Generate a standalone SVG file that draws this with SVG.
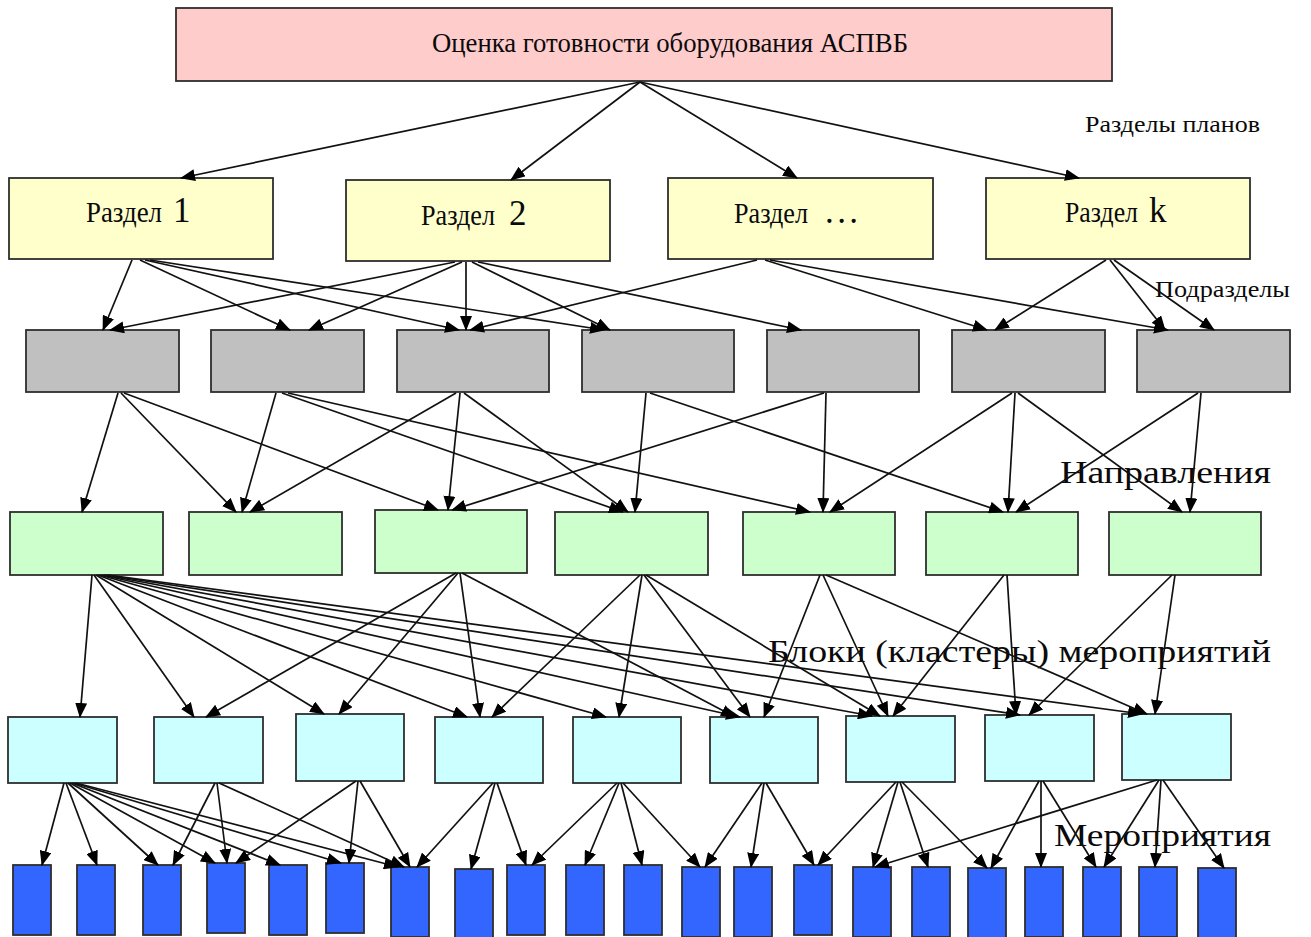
<svg xmlns="http://www.w3.org/2000/svg" width="1311" height="937" viewBox="0 0 1311 937">
  <style>
    .box { stroke: #2e2e2e; stroke-width: 1.8; }
    .top { fill: #ffcccc; }
    .sec { fill: #ffffcc; }
    .sub { fill: #c0c0c0; }
    .dir { fill: #ccffcc; }
    .blk { fill: #ccffff; }
    .act { fill: #3366ff; }
    .t { font-family: "Liberation Serif", "Times New Roman", serif; fill: #0a0a0a; }
    .e { stroke: #111; stroke-width: 1.7; fill: none; marker-end: url(#ah); }
  </style>
  <defs>
    <marker id="ah" markerUnits="userSpaceOnUse" markerWidth="15" markerHeight="12" refX="14" refY="6" orient="auto">
      <path d="M0,0 L15,6 L0,12 z" fill="#000"/>
    </marker>
  </defs>
  <rect width="1311" height="937" fill="#fff"/>

  <!-- root -->
  <g id="root">
    <rect class="box top" x="176" y="8" width="936" height="73"/>
    <text class="t" x="432" y="52" font-size="27" textLength="476" lengthAdjust="spacingAndGlyphs">Оценка готовности оборудования АСПВБ</text>
  </g>

  <!-- plan sections -->
  <g id="sec1">
    <rect class="box sec" x="9" y="178" width="264" height="81"/>
    <text class="t" x="86" y="222" font-size="30" textLength="76" lengthAdjust="spacingAndGlyphs">Раздел</text>
    <text class="t" x="173" y="222" font-size="35">1</text>
  </g>
  <g id="sec2">
    <rect class="box sec" x="346" y="180" width="264" height="81"/>
    <text class="t" x="421" y="225" font-size="30" textLength="74" lengthAdjust="spacingAndGlyphs">Раздел</text>
    <text class="t" x="509" y="225" font-size="35">2</text>
  </g>
  <g id="sec3">
    <rect class="box sec" x="668" y="178" width="265" height="81"/>
    <text class="t" x="734" y="223" font-size="30" textLength="74" lengthAdjust="spacingAndGlyphs">Раздел</text>
    <text class="t" x="825" y="223" font-size="35" textLength="33" lengthAdjust="spacing">...</text>
  </g>
  <g id="sec4">
    <rect class="box sec" x="986" y="178" width="264" height="81"/>
    <text class="t" x="1065" y="222" font-size="30" textLength="73" lengthAdjust="spacingAndGlyphs">Раздел</text>
    <text class="t" x="1149" y="222" font-size="35">k</text>
  </g>

  <!-- subsections -->
  <g id="sub1"><rect class="box sub" x="26" y="330" width="153" height="62"/></g>
  <g id="sub2"><rect class="box sub" x="211" y="330" width="153" height="62"/></g>
  <g id="sub3"><rect class="box sub" x="397" y="330" width="152" height="62"/></g>
  <g id="sub4"><rect class="box sub" x="582" y="330" width="152" height="62"/></g>
  <g id="sub5"><rect class="box sub" x="767" y="330" width="152" height="62"/></g>
  <g id="sub6"><rect class="box sub" x="952" y="330" width="153" height="62"/></g>
  <g id="sub7"><rect class="box sub" x="1137" y="330" width="153" height="62"/></g>

  <!-- directions -->
  <g id="dir1"><rect class="box dir" x="10" y="512" width="153" height="63"/></g>
  <g id="dir2"><rect class="box dir" x="189" y="512" width="153" height="63"/></g>
  <g id="dir3"><rect class="box dir" x="375" y="510" width="152" height="63"/></g>
  <g id="dir4"><rect class="box dir" x="555" y="512" width="153" height="63"/></g>
  <g id="dir5"><rect class="box dir" x="743" y="512" width="152" height="63"/></g>
  <g id="dir6"><rect class="box dir" x="926" y="512" width="152" height="63"/></g>
  <g id="dir7"><rect class="box dir" x="1109" y="512" width="152" height="63"/></g>

  <!-- activity clusters -->
  <g id="blk1"><rect class="box blk" x="8" y="717" width="109" height="66"/></g>
  <g id="blk2"><rect class="box blk" x="154" y="717" width="109" height="66"/></g>
  <g id="blk3"><rect class="box blk" x="296" y="714" width="108" height="67"/></g>
  <g id="blk4"><rect class="box blk" x="435" y="717" width="108" height="66"/></g>
  <g id="blk5"><rect class="box blk" x="573" y="717" width="108" height="66"/></g>
  <g id="blk6"><rect class="box blk" x="710" y="717" width="108" height="66"/></g>
  <g id="blk7"><rect class="box blk" x="846" y="716" width="109" height="66"/></g>
  <g id="blk8"><rect class="box blk" x="985" y="715" width="109" height="66"/></g>
  <g id="blk9"><rect class="box blk" x="1122" y="714" width="109" height="66"/></g>

  <!-- activities -->
  <g id="act1"><rect class="box act" x="13" y="865" width="38" height="70"/></g>
  <g id="act2"><rect class="box act" x="77" y="865" width="38" height="70"/></g>
  <g id="act3"><rect class="box act" x="143" y="865" width="38" height="70"/></g>
  <g id="act4"><rect class="box act" x="207" y="863" width="38" height="70"/></g>
  <g id="act5"><rect class="box act" x="269" y="865" width="38" height="70"/></g>
  <g id="act6"><rect class="box act" x="326" y="863" width="38" height="70"/></g>
  <g id="act7"><rect class="box act" x="391" y="867" width="38" height="70"/></g>
  <g id="act8"><rect class="box act" x="455" y="869" width="38" height="70"/></g>
  <g id="act9"><rect class="box act" x="507" y="865" width="38" height="70"/></g>
  <g id="act10"><rect class="box act" x="566" y="865" width="38" height="70"/></g>
  <g id="act11"><rect class="box act" x="624" y="865" width="38" height="70"/></g>
  <g id="act12"><rect class="box act" x="682" y="867" width="38" height="70"/></g>
  <g id="act13"><rect class="box act" x="734" y="867" width="38" height="70"/></g>
  <g id="act14"><rect class="box act" x="794" y="865" width="38" height="70"/></g>
  <g id="act15"><rect class="box act" x="853" y="867" width="38" height="70"/></g>
  <g id="act16"><rect class="box act" x="912" y="867" width="38" height="70"/></g>
  <g id="act17"><rect class="box act" x="968" y="868" width="38" height="70"/></g>
  <g id="act18"><rect class="box act" x="1025" y="867" width="38" height="70"/></g>
  <g id="act19"><rect class="box act" x="1083" y="867" width="38" height="70"/></g>
  <g id="act20"><rect class="box act" x="1139" y="867" width="38" height="70"/></g>
  <g id="act21"><rect class="box act" x="1198" y="868" width="38" height="70"/></g>

  <!-- level captions -->
  <g id="captions">
    <text class="t" x="1085" y="132" font-size="23" textLength="175" lengthAdjust="spacingAndGlyphs">Разделы планов</text>
    <text class="t" x="1155" y="297" font-size="23" textLength="135" lengthAdjust="spacingAndGlyphs">Подразделы</text>
    <text class="t" x="1060" y="483" font-size="31" textLength="211" lengthAdjust="spacingAndGlyphs">Направления</text>
    <text class="t" x="768" y="662" font-size="31" textLength="503" lengthAdjust="spacingAndGlyphs">Блоки (кластеры) мероприятий</text>
    <text class="t" x="1054" y="846" font-size="31" textLength="217" lengthAdjust="spacingAndGlyphs">Мероприятия</text>
  </g>

  <!-- connectors -->
  <g id="connectors">
    <!-- root to sections -->
    <line class="e" x1="640" y1="82" x2="181" y2="178"/>
    <line class="e" x1="640" y1="82" x2="511" y2="180"/>
    <line class="e" x1="640" y1="82" x2="797" y2="178"/>
    <line class="e" x1="640" y1="82" x2="1079" y2="178"/>

    <!-- sections to subsections -->
    <line class="e" x1="132" y1="260" x2="103" y2="330"/>
    <line class="e" x1="140" y1="260" x2="290" y2="330"/>
    <line class="e" x1="145" y1="260" x2="459" y2="330"/>
    <line class="e" x1="150" y1="260" x2="604" y2="330"/>
    <line class="e" x1="455" y1="262" x2="110" y2="330"/>
    <line class="e" x1="462" y1="262" x2="309" y2="330"/>
    <line class="e" x1="466" y1="262" x2="466" y2="330"/>
    <line class="e" x1="472" y1="262" x2="610" y2="330"/>
    <line class="e" x1="478" y1="262" x2="801" y2="330"/>
    <line class="e" x1="757" y1="260" x2="470" y2="330"/>
    <line class="e" x1="765" y1="260" x2="987" y2="330"/>
    <line class="e" x1="770" y1="260" x2="1168" y2="330"/>
    <line class="e" x1="1106" y1="260" x2="995" y2="330"/>
    <line class="e" x1="1110" y1="260" x2="1165" y2="330"/>
    <line class="e" x1="1114" y1="260" x2="1214" y2="330"/>

    <!-- subsections to directions -->
    <line class="e" x1="118" y1="393" x2="82" y2="512"/>
    <line class="e" x1="121" y1="393" x2="236" y2="512"/>
    <line class="e" x1="124" y1="393" x2="438" y2="510"/>
    <line class="e" x1="276" y1="393" x2="242" y2="512"/>
    <line class="e" x1="282" y1="393" x2="623" y2="512"/>
    <line class="e" x1="288" y1="393" x2="810" y2="512"/>
    <line class="e" x1="456" y1="393" x2="250" y2="512"/>
    <line class="e" x1="460" y1="393" x2="448" y2="510"/>
    <line class="e" x1="464" y1="393" x2="628" y2="512"/>
    <line class="e" x1="646" y1="393" x2="635" y2="512"/>
    <line class="e" x1="650" y1="393" x2="1003" y2="512"/>
    <line class="e" x1="824" y1="393" x2="452" y2="510"/>
    <line class="e" x1="826" y1="393" x2="823" y2="512"/>
    <line class="e" x1="1012" y1="393" x2="830" y2="512"/>
    <line class="e" x1="1015" y1="393" x2="1008" y2="512"/>
    <line class="e" x1="1018" y1="393" x2="1182" y2="512"/>
    <line class="e" x1="1198" y1="393" x2="1016" y2="512"/>
    <line class="e" x1="1201" y1="393" x2="1190" y2="512"/>

    <!-- directions to clusters -->
    <line class="e" x1="92" y1="575" x2="80" y2="717"/>
    <line class="e" x1="94" y1="575" x2="194" y2="717"/>
    <line class="e" x1="96" y1="575" x2="324" y2="714"/>
    <line class="e" x1="98" y1="575" x2="467" y2="717"/>
    <line class="e" x1="100" y1="575" x2="606" y2="717"/>
    <line class="e" x1="102" y1="575" x2="740" y2="717"/>
    <line class="e" x1="104" y1="575" x2="872" y2="716"/>
    <line class="e" x1="106" y1="575" x2="1020" y2="715"/>
    <line class="e" x1="108" y1="575" x2="1142" y2="714"/>
    <line class="e" x1="456" y1="573" x2="206" y2="717"/>
    <line class="e" x1="458" y1="573" x2="339" y2="714"/>
    <line class="e" x1="460" y1="573" x2="480" y2="717"/>
    <line class="e" x1="462" y1="573" x2="735" y2="717"/>
    <line class="e" x1="640" y1="575" x2="492" y2="717"/>
    <line class="e" x1="642" y1="575" x2="619" y2="717"/>
    <line class="e" x1="644" y1="575" x2="750" y2="717"/>
    <line class="e" x1="646" y1="575" x2="880" y2="716"/>
    <line class="e" x1="820" y1="575" x2="764" y2="717"/>
    <line class="e" x1="823" y1="575" x2="888" y2="716"/>
    <line class="e" x1="826" y1="575" x2="1147" y2="714"/>
    <line class="e" x1="1004" y1="575" x2="893" y2="716"/>
    <line class="e" x1="1007" y1="575" x2="1016" y2="715"/>
    <line class="e" x1="1172" y1="575" x2="1029" y2="715"/>
    <line class="e" x1="1175" y1="575" x2="1155" y2="714"/>

    <!-- clusters to activities -->
    <line class="e" x1="64" y1="783" x2="42" y2="865"/>
    <line class="e" x1="66" y1="783" x2="97" y2="865"/>
    <line class="e" x1="68" y1="783" x2="158" y2="865"/>
    <line class="e" x1="70" y1="783" x2="215" y2="863"/>
    <line class="e" x1="72" y1="783" x2="280" y2="865"/>
    <line class="e" x1="74" y1="783" x2="341" y2="863"/>
    <line class="e" x1="76" y1="783" x2="398" y2="867"/>
    <line class="e" x1="215" y1="783" x2="173" y2="865"/>
    <line class="e" x1="217" y1="783" x2="227" y2="863"/>
    <line class="e" x1="219" y1="783" x2="404" y2="867"/>
    <line class="e" x1="356" y1="781" x2="236" y2="863"/>
    <line class="e" x1="358" y1="781" x2="349" y2="863"/>
    <line class="e" x1="360" y1="781" x2="410" y2="867"/>
    <line class="e" x1="493" y1="783" x2="417" y2="867"/>
    <line class="e" x1="495" y1="783" x2="471" y2="869"/>
    <line class="e" x1="497" y1="783" x2="526" y2="865"/>
    <line class="e" x1="617" y1="783" x2="532" y2="865"/>
    <line class="e" x1="619" y1="783" x2="585" y2="865"/>
    <line class="e" x1="621" y1="783" x2="642" y2="865"/>
    <line class="e" x1="623" y1="783" x2="700" y2="867"/>
    <line class="e" x1="762" y1="783" x2="705" y2="867"/>
    <line class="e" x1="764" y1="783" x2="751" y2="867"/>
    <line class="e" x1="766" y1="783" x2="814" y2="865"/>
    <line class="e" x1="896" y1="782" x2="818" y2="865"/>
    <line class="e" x1="898" y1="782" x2="873" y2="867"/>
    <line class="e" x1="900" y1="782" x2="928" y2="867"/>
    <line class="e" x1="902" y1="782" x2="987" y2="868"/>
    <line class="e" x1="1039" y1="781" x2="991" y2="868"/>
    <line class="e" x1="1041" y1="781" x2="1041" y2="867"/>
    <line class="e" x1="1043" y1="781" x2="1096" y2="867"/>
    <line class="e" x1="1157" y1="780" x2="875" y2="867"/>
    <line class="e" x1="1159" y1="780" x2="1104" y2="867"/>
    <line class="e" x1="1161" y1="780" x2="1155" y2="867"/>
    <line class="e" x1="1163" y1="780" x2="1224" y2="868"/>
  </g>
</svg>
